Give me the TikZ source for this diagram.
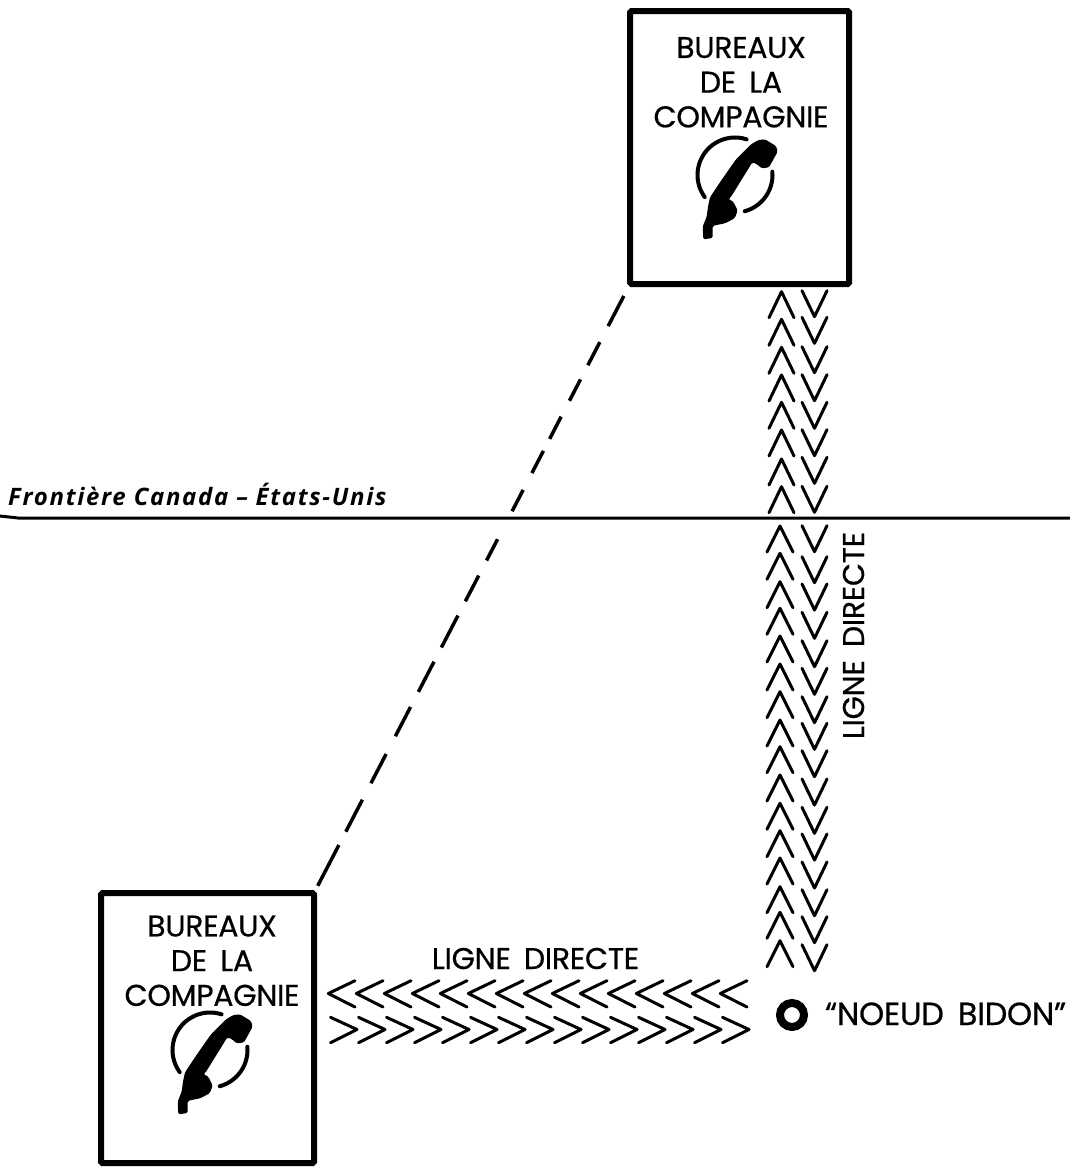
\documentclass[tikz,border=0pt]{standalone}
\usepackage{fontspec}
\setmainfont{Poppins}[LetterSpace=-1,WordSpace=1.7,FakeBold=0.5]
\newfontfamily\borderfont{Open Sans}[LetterSpace=7,BoldItalicFont=* Bold Italic]
\tikzset{
  officebox/.style={draw=black,line width=6pt,inner sep=0pt,outer sep=0pt,rounded corners=1.5pt,fill=white},
  boxlabel/.style={align=center,inner sep=0pt,outer sep=0pt,font=\fontsize{30}{34.7}\selectfont},
  linelabel/.style={inner sep=0pt,outer sep=0pt,font=\fontsize{30}{32}\selectfont},
  chevron/.style={line width=3pt,line join=round,line cap=round},
  tieline/.style={line width=3.5pt,
    dash pattern=on 0pt off 13.5pt on 34pt off 18pt on 26pt off 16pt on 24pt off 18pt on 25pt off 13.5pt on 25pt off 19pt on 24pt off 31.5pt on 24pt off 17pt on 29pt off 16pt on 36pt off 16pt on 34pt off 17pt on 33pt off 20pt on 33pt off 18.5pt on 36pt off 15pt on 46pt off 100pt},
  phonearc/.style={line width=4pt,line cap=round},
  pics/phone/.style={code={
    \begin{scope}[x=0.3333pt,y=-0.3333pt,shift={(-345,-525)}]
      \fill[rounded corners=1.5pt] (415,420)--(435,418)--(468,438)--(473,455)--(447,502)--(425,505)--(410,492)--(397,487)--(332,592)--(325,597)--(340,605)--(353,632)--(344,655)--(315,670)--(285,676)--(278,678)--(278,714)--(250,718)--(248,680)--(260,650)--(264,620)--(270,592)--(306,538)--(348,478)--(393,433)--cycle;
    \end{scope}
    \draw[phonearc] plot[smooth,domain=-216:-72,samples=25] ({37.5*cos(\x)},{37.5*sin(\x)});
    \draw[phonearc] plot[smooth,domain=-5:75,samples=15] ({37.5*cos(\x)},{37.5*sin(\x)});
  }}
}
\begin{document}
\begin{tikzpicture}[x=1pt,y=-1pt]
\useasboundingbox (0,0) rectangle (1070,1167);
% border
\coordinate (borderL) at (0,516);
\coordinate (borderK) at (18,518);
\coordinate (borderR) at (1070,518);
\draw[line width=3pt] (borderL) -- (borderK) -- (borderR);
\node[anchor=base west,inner sep=0pt,font=\borderfont\bfseries\itshape\fontsize{24}{26}\selectfont] (borderlabel) at (8,505) {Frontière Canada – États-Unis};
% offices
\node[officebox,minimum width=219pt,minimum height=273pt] (officeA) at (739.5,147.5) {};
\node[officebox,minimum width=213pt,minimum height=270pt] (officeB) at (207.5,1028) {};
\node[boxlabel,anchor=north] (labelA) at (741,37) {BUREAUX\\DE LA\\COMPAGNIE};
\node[boxlabel,anchor=north] (labelB) at (212,915.5) {BUREAUX\\DE LA\\COMPAGNIE};
\pic at (735,175) {phone};
\pic at (210,1050) {phone};
% tie line between offices
\draw[tieline] (officeA.south west) -- (officeB.north east);
% direct line, vertical
\foreach \y in {291.7,319.3,347.3,375,402.3,430,459,486.7}
  \draw[chevron] (769,\y+26) -- (781.5,\y) -- (794,\y+26);
\foreach \y in {526,553.3,581.7,608.3,636,664,691.7,720,746.7,775,803.3,830.7,858,886.7,912.3,940.7}
  \draw[chevron] (767,\y+26) -- (780,\y) -- (793,\y+26);
\foreach \y in {316.7,343.3,372.7,400.7,428.3,455.7,483.3,512.3,551.7,582.7,610,638.3,666.7,694.3,722.7,749.3,776.7,805,833.3,860,888,915.7,942.7,970.7}
  \draw[chevron] (802,\y-26) -- (814.5,\y) -- (827,\y-26);
% direct line, horizontal
\foreach \i in {0,...,14}
  \draw[chevron] (355+28*\i,980.7) -- (328.3+28*\i,993.5) -- (355+28*\i,1007);
\foreach \i in {0,...,14}
  \draw[chevron] (330.5+28*\i,1017.3) -- (357+28*\i,1029.5) -- (330.5+28*\i,1042.7);
\node[linelabel,anchor=base] (lineH) at (535.5,969) {LIGNE DIRECTE};
\node[linelabel,anchor=base,rotate=90] (lineV) at (864,635.5) {LIGNE DIRECTE};
% dummy node
\node[circle,draw=black,line width=8pt,minimum size=24pt,inner sep=0pt,outer sep=0pt] (dummy) at (792,1015) {};
\node[inner sep=0pt,outer sep=0pt,font=\fontsize{32}{34}\selectfont,anchor=base west] (dummylabel) at (825,1025) {“NOEUD BIDON”};
\end{tikzpicture}
\end{document}
